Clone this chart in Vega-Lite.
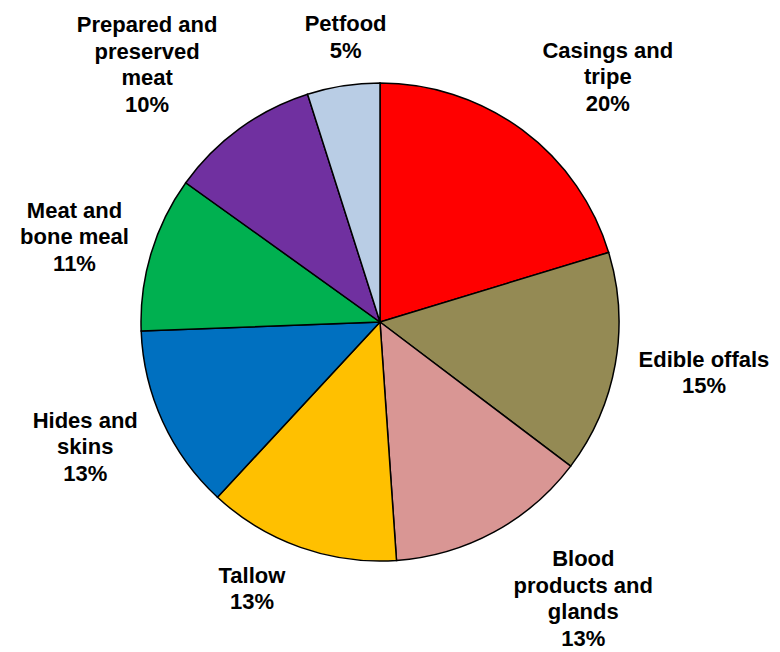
{
  "$schema": "https://vega.github.io/schema/vega-lite/v6.json",
  "width": 760,
  "height": 644,
  "padding": {"left": 0, "top": 0, "right": 20, "bottom": 8},
  "autosize": {"type": "none"},
  "background": "white",
  "config": {
    "text": {"font": "Liberation Sans", "fontWeight": "bold", "fontSize": 22, "lineBreak": "\n", "lineHeight": 26.5, "align": "center", "baseline": "middle", "color": "black"}
  },
  "data": {
    "values": [
      {"idx": 1, "category": "Casings and tripe", "value": 20.3, "label": "Casings and\ntripe\n20%"},
      {"idx": 2, "category": "Edible offals", "value": 15.0, "label": "Edible offals\n15%"},
      {"idx": 3, "category": "Blood products and glands", "value": 13.6, "label": "Blood\nproducts and\nglands\n13%"},
      {"idx": 4, "category": "Tallow", "value": 13.0, "label": "Tallow\n13%"},
      {"idx": 5, "category": "Hides and skins", "value": 12.5, "label": "Hides and\nskins\n13%"},
      {"idx": 6, "category": "Meat and bone meal", "value": 10.5, "label": "Meat and\nbone meal\n11%"},
      {"idx": 7, "category": "Prepared and preserved meat", "value": 10.2, "label": "Prepared and\npreserved\nmeat\n10%"},
      {"idx": 8, "category": "Petfood", "value": 4.9, "label": "Petfood\n5%"}
    ]
  },
  "encoding": {
    "theta": {"field": "value", "type": "quantitative", "stack": true},
    "order": {"field": "idx", "type": "quantitative"}
  },
  "layer": [
    {
      "mark": {"type": "arc", "outerRadius": 239, "stroke": "black", "strokeWidth": 1.5},
      "encoding": {
        "color": {
          "field": "category",
          "type": "nominal",
          "legend": null,
          "scale": {
            "domain": ["Casings and tripe", "Edible offals", "Blood products and glands", "Tallow", "Hides and skins", "Meat and bone meal", "Prepared and preserved meat", "Petfood"],
            "range": ["#FF0000", "#948A54", "#D99694", "#FFC000", "#0070C0", "#00B050", "#7030A0", "#B9CDE5"]
          }
        }
      }
    },
    {
      "mark": {"type": "text", "radius": 335, "thetaOffset": 0.11, "dy": -25.5},
      "encoding": {"text": {"condition": {"test": "datum.idx == 1", "field": "label"}, "value": ""}}
    },
    {
      "mark": {"type": "text", "radius": 329, "dy": -20},
      "encoding": {"text": {"condition": {"test": "datum.idx == 2", "field": "label"}, "value": ""}}
    },
    {
      "mark": {"type": "text", "radius": 343, "thetaOffset": -0.138, "dy": -39},
      "encoding": {"text": {"condition": {"test": "datum.idx == 3", "field": "label"}, "value": ""}}
    },
    {
      "mark": {"type": "text", "radius": 296, "thetaOffset": 0.108, "dy": -13},
      "encoding": {"text": {"condition": {"test": "datum.idx == 4", "field": "label"}, "value": ""}}
    },
    {
      "mark": {"type": "text", "radius": 315, "thetaOffset": 0.07, "dy": -12.5},
      "encoding": {"text": {"condition": {"test": "datum.idx == 5", "field": "label"}, "value": ""}}
    },
    {
      "mark": {"type": "text", "radius": 319, "dy": -19.5},
      "encoding": {"text": {"condition": {"test": "datum.idx == 6", "field": "label"}, "value": ""}}
    },
    {
      "mark": {"type": "text", "radius": 348, "thetaOffset": -0.105, "dy": -38},
      "encoding": {"text": {"condition": {"test": "datum.idx == 7", "field": "label"}, "value": ""}}
    },
    {
      "mark": {"type": "text", "radius": 290, "thetaOffset": 0.035, "dy": -10},
      "encoding": {"text": {"condition": {"test": "datum.idx == 8", "field": "label"}, "value": ""}}
    }
  ]
}
